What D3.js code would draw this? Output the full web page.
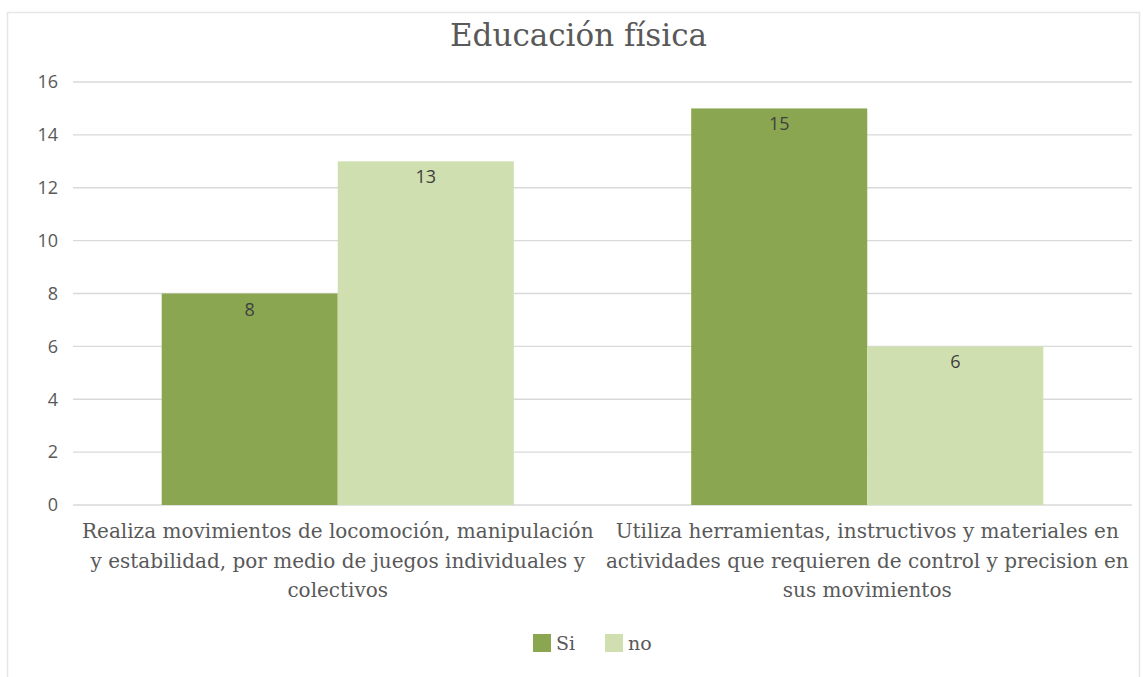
<!DOCTYPE html>
<html>
<head>
<meta charset="utf-8">
<script src="https://cdn.jsdelivr.net/npm/d3@7"></script>
<style>
  body{margin:0;background:#fff;}
  svg text{fill:#595959;}
</style>
</head>
<body>
<div id="chart"></div>
<script>
let categories=[
  "Realiza movimientos de locomoción, manipulación|y estabilidad, por medio de juegos individuales y|colectivos",
  "Utiliza herramientas, instructivos y materiales en|actividades que requieren de control y precision en|sus movimientos"
];
let seriesNames=["Si","no"];
let siValues=[8,15];
let noValues=[13,6];
let yTicks=[0,2,4,6,8,10,12,14,16];
let title="Educación física";

(function(){
  let W=1143,H=677;
  let colors={"Si":"#8BA651","no":"#D0DFAF"};
  let serif="'DejaVu Serif', 'Liberation Serif', serif";
  let sans="'Open Sans', 'Liberation Sans', sans-serif";
  let margin={top:82,right:11,bottom:172,left:73};
  let width=W-margin.left-margin.right;
  let height=H-margin.top-margin.bottom;

  let svg=d3.select("#chart").append("svg")
    .attr("width",W).attr("height",H);

  //chart frame
  svg.append("rect")
    .attr("x",7.5).attr("y",12.5)
    .attr("width",1132).attr("height",680)
    .attr("fill","#fff").attr("stroke","#E6E6E6").attr("stroke-width",1.5);

  svg.append("text")
    .attr("x",W/2+7).attr("y",46)
    .attr("text-anchor","middle")
    .style("font-family",serif).style("font-size","31px")
    .text(title);

  let g=svg.append("g").attr("transform","translate("+margin.left+","+margin.top+")");

  let data=categories.map(function(c,i){
    return {cat:c,values:[{k:"Si",v:siValues[i]},{k:"no",v:noValues[i]}]};
  });

  let x0=d3.scaleBand().domain(categories).range([0,width]).paddingInner(0.335).paddingOuter(0.1675);
  let x1=d3.scaleBand().domain(seriesNames).range([0,x0.bandwidth()]);
  let y=d3.scaleLinear().domain([0,16]).range([height,0]);

  //grid
  g.append("g").selectAll("line").data(yTicks).enter().append("line")
    .attr("x1",0).attr("x2",width)
    .attr("y1",function(d){return y(d)}).attr("y2",function(d){return y(d)})
    .attr("stroke","#D9D9D9").attr("stroke-width",1.3);

  let yAxis=g.append("g").call(d3.axisLeft(y).tickValues(yTicks).tickSize(0).tickPadding(15));
  yAxis.select(".domain").remove();
  yAxis.selectAll("text").style("font-family",sans).style("font-size","18px").attr("fill","#595959");

  let groups=g.selectAll(".grp").data(data).enter().append("g")
    .attr("transform",function(d){return "translate("+x0(d.cat)+",0)"});
  groups.selectAll("rect").data(function(d){return d.values}).enter().append("rect")
    .attr("x",function(d){return x1(d.k)})
    .attr("width",x1.bandwidth())
    .attr("y",function(d){return y(d.v)})
    .attr("height",function(d){return height-y(d.v)})
    .attr("fill",function(d){return colors[d.k]});
  groups.selectAll(".lbl").data(function(d){return d.values}).enter().append("text")
    .attr("x",function(d){return x1(d.k)+x1.bandwidth()/2})
    .attr("y",function(d){return y(d.v)+22})
    .attr("text-anchor","middle")
    .style("font-family",sans).style("font-size","18px")
    .style("fill","#404040")
    .text(function(d){return d.v});

  //category labels
  let cl=g.selectAll(".cat").data(categories).enter().append("text")
    .attr("text-anchor","middle")
    .attr("transform",function(d){return "translate("+(x0(d)+x0.bandwidth()/2)+","+(height+33)+")"})
    .style("font-family",serif).style("font-size","20px");
  cl.selectAll("tspan").data(function(d){return d.split("|")}).enter().append("tspan")
    .attr("x",0).attr("dy",function(d,i){return i?29.5:0})
    .text(function(d){return d});

  //legend
  let lg=svg.append("g").attr("transform","translate(533,634)");
  let items=lg.selectAll("g").data(seriesNames).enter().append("g")
    .attr("transform",function(d,i){return "translate("+(i*72)+",0)"});
  items.append("rect").attr("width",18).attr("height",18)
    .attr("fill",function(d){return colors[d]});
  items.append("text").attr("x",23).attr("y",16)
    .style("font-family",serif).style("font-size","19px")
    .text(function(d){return d});
})();
</script>
</body>
</html>
